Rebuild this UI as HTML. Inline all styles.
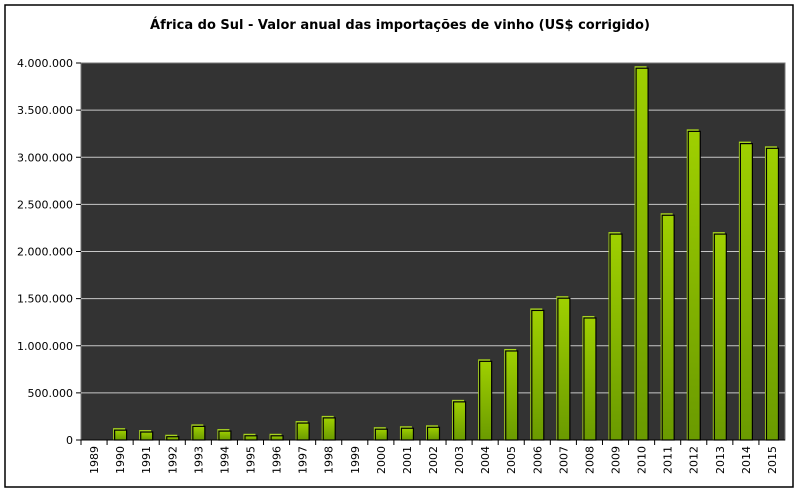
<!DOCTYPE html>
<html><head><meta charset="utf-8"><style>
body{margin:0;background:#fff;}
svg{display:block;font-family:"DejaVu Sans","Liberation Sans",sans-serif;}
</style></head><body>
<svg id="c" width="799" height="493">
<defs><linearGradient id="g" x1="0" y1="0" x2="0" y2="1"><stop offset="0" stop-color="#9fd000"/><stop offset="1" stop-color="#6a9a00"/></linearGradient></defs>
<rect x="5" y="5" width="788" height="482" fill="#fff" stroke="#000" stroke-width="1.5"/>
<text x="400" y="29" text-anchor="middle" font-size="13" font-weight="bold">África do Sul - Valor anual das importações de vinho (US$ corrigido)</text>
<rect x="81" y="63" width="704" height="377" fill="#333333" stroke="#777"/>
<g id="grid"></g><g id="bars"></g><g id="axes"></g>
</svg>
<script>
const years=["1989","1990","1991","1992","1993","1994","1995","1996","1997","1998","1999","2000","2001","2002","2003","2004","2005","2006","2007","2008","2009","2010","2011","2012","2013","2014","2015"];
const values=[0,110000,90000,40000,150000,100000,50000,50000,185000,240000,0,120000,130000,140000,410000,840000,950000,1380000,1510000,1300000,2190000,3950000,2390000,3280000,2190000,3150000,3100000];
const yTicks=[0,500000,1000000,1500000,2000000,2500000,3000000,3500000,4000000];
const yLabels=["0","500.000","1.000.000","1.500.000","2.000.000","2.500.000","3.000.000","3.500.000","4.000.000"];
const NS="http://www.w3.org/2000/svg";
const L=81,R=785,T=63,B=440,yMax=4000000;
const slot=(R-L)/years.length;
const y=v=>B-(v/yMax)*(B-T);
const x=i=>L+slot*(i+0.5);
function mk(t,a,p){const e=document.createElementNS(NS,t);for(const k in a)e.setAttribute(k,a[k]);p.appendChild(e);return e;}
const grid=document.getElementById('grid'),bars=document.getElementById('bars'),axes=document.getElementById('axes');
yTicks.forEach((v,i)=>{
  if(v>0&&v<yMax){const l=mk('line',{x1:L,x2:R,y1:y(v),y2:y(v),stroke:'#c8c8c8','stroke-width':1},grid);
  
  }
  const tk=mk('line',{x1:L-5,x2:L,y1:y(v),y2:y(v),stroke:'#000'},axes);
  
  
  const t=mk('text',{x:L-8,y:y(v)+4,'text-anchor':'end','font-size':11},axes);
  t.textContent=yLabels[i];
  
  
});
mk('line',{x1:L,x2:R,y1:B,y2:B,stroke:'#000'},axes);
years.forEach((yr,i)=>{
  const cx=x(i),v=values[i];
  const tk=mk('line',{x1:L+slot*i,x2:L+slot*i,y1:B,y2:B+5,stroke:'#000'},axes);
  
  
  const t=mk('text',{x:0,y:0,'text-anchor':'end','font-size':11,transform:`translate(${cx+4},${B+6}) rotate(-90)`},axes);
  t.textContent=yr;
  
  
  if(v>0){
    const g=mk('g',{},bars);
    
    
    const top=y(v),w=12;
    mk('rect',{x:cx-w/2-1,y:top-1.5,width:w,height:B-top+1.5,fill:'#a8d420'},g);
    mk('rect',{x:cx-w/2+0.5,y:top+0.5,width:w,height:B-top-0.5,fill:'url(#g)',stroke:'#000','stroke-width':1.2},g);
  }
});
</script>
</body></html>
